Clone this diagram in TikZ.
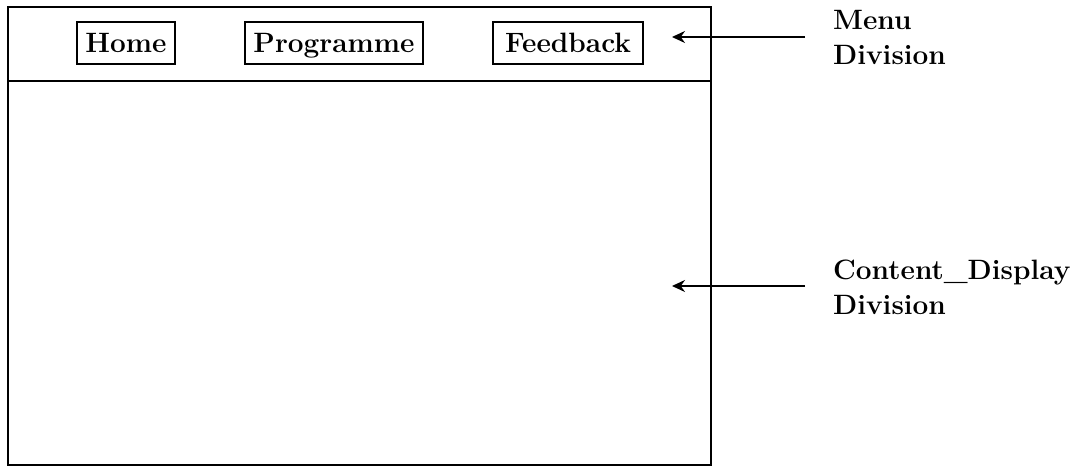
\documentclass[tikz,border=0pt]{standalone}
\usepackage{fontspec}
\usetikzlibrary{arrows.meta}
\tikzset{
  frame/.style={line width=1.6pt},
  menubtn/.style={draw, line width=1.3pt, minimum height=42pt, inner sep=0pt, text height=20pt, text depth=0pt, font=\fontsize{28}{32}\selectfont\bfseries},
  lbl/.style={anchor=north west, inner sep=0pt, align=left, font=\fontsize{28}{35.5}\selectfont\bfseries},
  pointer/.style={line width=1.5pt, -{Stealth[length=13pt,width=12pt]}}
}
\begin{document}
\begin{tikzpicture}[x=1pt,y=1pt]
\useasboundingbox (0,0) rectangle (1082,467);
% outer frame and menu divider
\draw[frame] (8,460) rectangle (711,2);
\draw[frame] (8,386) -- (711,386);
% menu buttons
\node[menubtn, minimum width=98pt] (home) at (126,424) {Home};
\node[menubtn, minimum width=178pt] (prog) at (334,424) {Programme};
\node[menubtn, minimum width=150pt] (feed) at (568,424) {Feedback};
% labels
\node[lbl] (menulbl) at (833,457) {Menu\\Division};
\node[lbl] (contlbl) at (833,207.5) {Content\_Display\\Division};
% arrows
\coordinate (mtail) at (805,430);
\coordinate (mtip) at (672,430);
\coordinate (ctail) at (805,181);
\coordinate (ctip) at (672,181);
\draw[pointer] (mtail) -- (mtip);
\draw[pointer] (ctail) -- (ctip);
\end{tikzpicture}
\end{document}
